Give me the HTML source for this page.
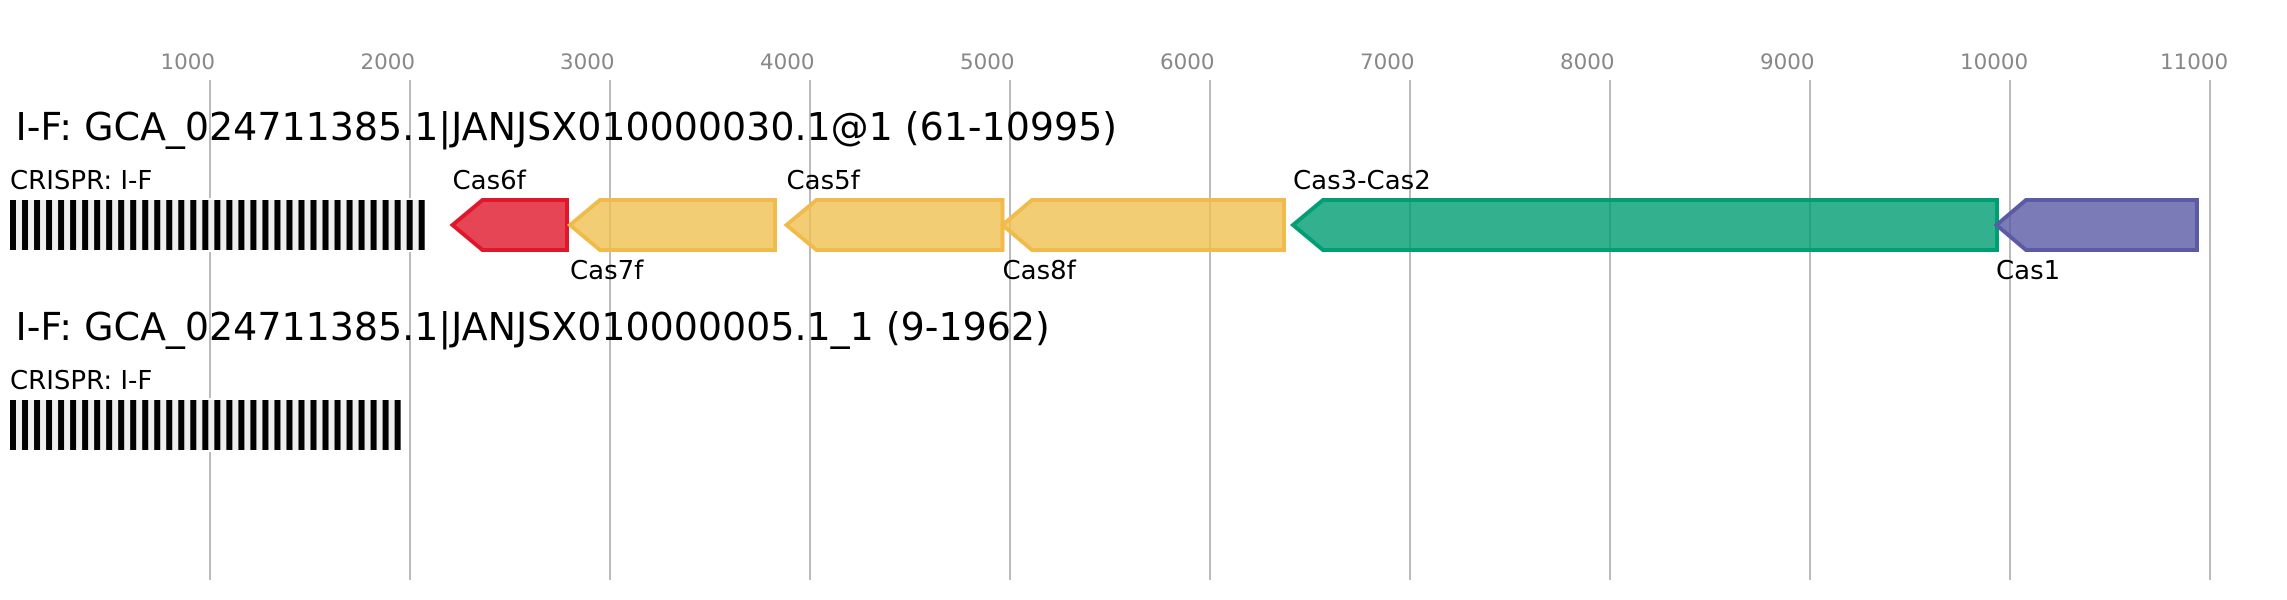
<!DOCTYPE html>
<html>
<head>
<meta charset="utf-8">
<style>
html,body{margin:0;padding:0;background:#fff;width:2287px;height:600px;overflow:hidden}
svg{display:block}
text{font-family:"DejaVu Sans","Liberation Sans",sans-serif}
.t{font-size:21.4px;fill:#888}
.h{font-size:37.95px;fill:#000}
.l{font-size:26px;fill:#000}
.g{stroke-width:4;fill-opacity:.8;stroke-linejoin:miter}
</style>
</head>
<body>
<svg width="2287" height="600" viewBox="0 0 2287 600" xmlns="http://www.w3.org/2000/svg">
<g stroke="#bbb" stroke-width="2">
<line x1="210" y1="80" x2="210" y2="580"/>
<line x1="410" y1="80" x2="410" y2="580"/>
<line x1="610" y1="80" x2="610" y2="580"/>
<line x1="810" y1="80" x2="810" y2="580"/>
<line x1="1010" y1="80" x2="1010" y2="580"/>
<line x1="1210" y1="80" x2="1210" y2="580"/>
<line x1="1410" y1="80" x2="1410" y2="580"/>
<line x1="1610" y1="80" x2="1610" y2="580"/>
<line x1="1810" y1="80" x2="1810" y2="580"/>
<line x1="2010" y1="80" x2="2010" y2="580"/>
<line x1="2210" y1="80" x2="2210" y2="580"/>
</g>
<g class="t">
<text class="t" x="160.5" y="69">1000</text>
<text class="t" x="360.5" y="69">2000</text>
<text class="t" x="560" y="69">3000</text>
<text class="t" x="760" y="69">4000</text>
<text class="t" x="960" y="69">5000</text>
<text class="t" x="1160" y="69">6000</text>
<text class="t" x="1360" y="69">7000</text>
<text class="t" x="1560" y="69">8000</text>
<text class="t" x="1760" y="69">9000</text>
<text class="t" x="1960" y="69">10000</text>
<text class="t" x="2160" y="69">11000</text>
</g>
<text class="h" x="15.5" y="140">I-F: GCA_024711385.1|JANJSX010000030.1@1 (61-10995)</text>
<text class="h" x="15.5" y="340">I-F: GCA_024711385.1|JANJSX010000005.1_1 (9-1962)</text>

<text class="l" x="10" y="189">CRISPR: I-F</text>
<rect x="8" y="198" width="419" height="54" fill="#fff"/>
<rect x="10" y="200" width="414.7" height="50" fill="#eee"/>
<g fill="#000">
<rect x="10" y="200" width="6" height="50"/><rect x="22.02" y="200" width="6" height="50"/><rect x="34.04" y="200" width="6" height="50"/><rect x="46.06" y="200" width="6" height="50"/><rect x="58.08" y="200" width="6" height="50"/><rect x="70.1" y="200" width="6" height="50"/><rect x="82.12" y="200" width="6" height="50"/><rect x="94.14" y="200" width="6" height="50"/><rect x="106.16" y="200" width="6" height="50"/><rect x="118.18" y="200" width="6" height="50"/><rect x="130.2" y="200" width="6" height="50"/><rect x="142.22" y="200" width="6" height="50"/><rect x="154.24" y="200" width="6" height="50"/><rect x="166.26" y="200" width="6" height="50"/><rect x="178.28" y="200" width="6" height="50"/><rect x="190.3" y="200" width="6" height="50"/><rect x="202.32" y="200" width="6" height="50"/><rect x="214.34" y="200" width="6" height="50"/><rect x="226.36" y="200" width="6" height="50"/><rect x="238.38" y="200" width="6" height="50"/><rect x="250.4" y="200" width="6" height="50"/><rect x="262.42" y="200" width="6" height="50"/><rect x="274.44" y="200" width="6" height="50"/><rect x="286.46" y="200" width="6" height="50"/><rect x="298.48" y="200" width="6" height="50"/><rect x="310.5" y="200" width="6" height="50"/><rect x="322.52" y="200" width="6" height="50"/><rect x="334.54" y="200" width="6" height="50"/><rect x="346.56" y="200" width="6" height="50"/><rect x="358.58" y="200" width="6" height="50"/><rect x="370.6" y="200" width="6" height="50"/><rect x="382.62" y="200" width="6" height="50"/><rect x="394.64" y="200" width="6" height="50"/><rect x="406.66" y="200" width="6" height="50"/><rect x="418.68" y="200" width="6" height="50"/>
</g>

<text class="l" x="10" y="389">CRISPR: I-F</text>
<rect x="8" y="398" width="395" height="54" fill="#fff"/>
<rect x="10" y="400" width="390.7" height="50" fill="#eee"/>
<g fill="#000">
<rect x="10" y="400" width="6" height="50"/><rect x="22.02" y="400" width="6" height="50"/><rect x="34.04" y="400" width="6" height="50"/><rect x="46.06" y="400" width="6" height="50"/><rect x="58.08" y="400" width="6" height="50"/><rect x="70.1" y="400" width="6" height="50"/><rect x="82.12" y="400" width="6" height="50"/><rect x="94.14" y="400" width="6" height="50"/><rect x="106.16" y="400" width="6" height="50"/><rect x="118.18" y="400" width="6" height="50"/><rect x="130.2" y="400" width="6" height="50"/><rect x="142.22" y="400" width="6" height="50"/><rect x="154.24" y="400" width="6" height="50"/><rect x="166.26" y="400" width="6" height="50"/><rect x="178.28" y="400" width="6" height="50"/><rect x="190.3" y="400" width="6" height="50"/><rect x="202.32" y="400" width="6" height="50"/><rect x="214.34" y="400" width="6" height="50"/><rect x="226.36" y="400" width="6" height="50"/><rect x="238.38" y="400" width="6" height="50"/><rect x="250.4" y="400" width="6" height="50"/><rect x="262.42" y="400" width="6" height="50"/><rect x="274.44" y="400" width="6" height="50"/><rect x="286.46" y="400" width="6" height="50"/><rect x="298.48" y="400" width="6" height="50"/><rect x="310.5" y="400" width="6" height="50"/><rect x="322.52" y="400" width="6" height="50"/><rect x="334.54" y="400" width="6" height="50"/><rect x="346.56" y="400" width="6" height="50"/><rect x="358.58" y="400" width="6" height="50"/><rect x="370.6" y="400" width="6" height="50"/><rect x="382.62" y="400" width="6" height="50"/><rect x="394.64" y="400" width="6" height="50"/>
</g>

<polygon class="g" points="452.5,225 482.5,200 567,200 567,250 482.5,250" fill="#e0162b" stroke="#e0162b"/>
<polygon class="g" points="570,225 600,200 775,200 775,250 600,250" fill="#f0c050" stroke="#f0bb4a"/>
<polygon class="g" points="786.5,225 816.5,200 1002.5,200 1002.5,250 816.5,250" fill="#f0c050" stroke="#f0bb4a"/>
<polygon class="g" points="1002.5,225 1032,200 1284,200 1284,250 1032,250" fill="#f0c050" stroke="#f0bb4a"/>
<polygon class="g" points="1293,225 1323,200 1997,200 1997,250 1323,250" fill="#009e73" stroke="#009e73"/>
<polygon class="g" points="1996.5,225 2026,200 2197,200 2197,250 2026,250" fill="#5a5aa5" stroke="#5a5aa5"/>

<text class="l" x="452.5" y="189">Cas6f</text>
<text class="l" x="570" y="279">Cas7f</text>
<text class="l" x="786.5" y="189">Cas5f</text>
<text class="l" x="1002.5" y="279">Cas8f</text>
<text class="l" x="1293" y="189">Cas3-Cas2</text>
<text class="l" x="1996" y="279">Cas1</text>
</svg>
</body>
</html>
